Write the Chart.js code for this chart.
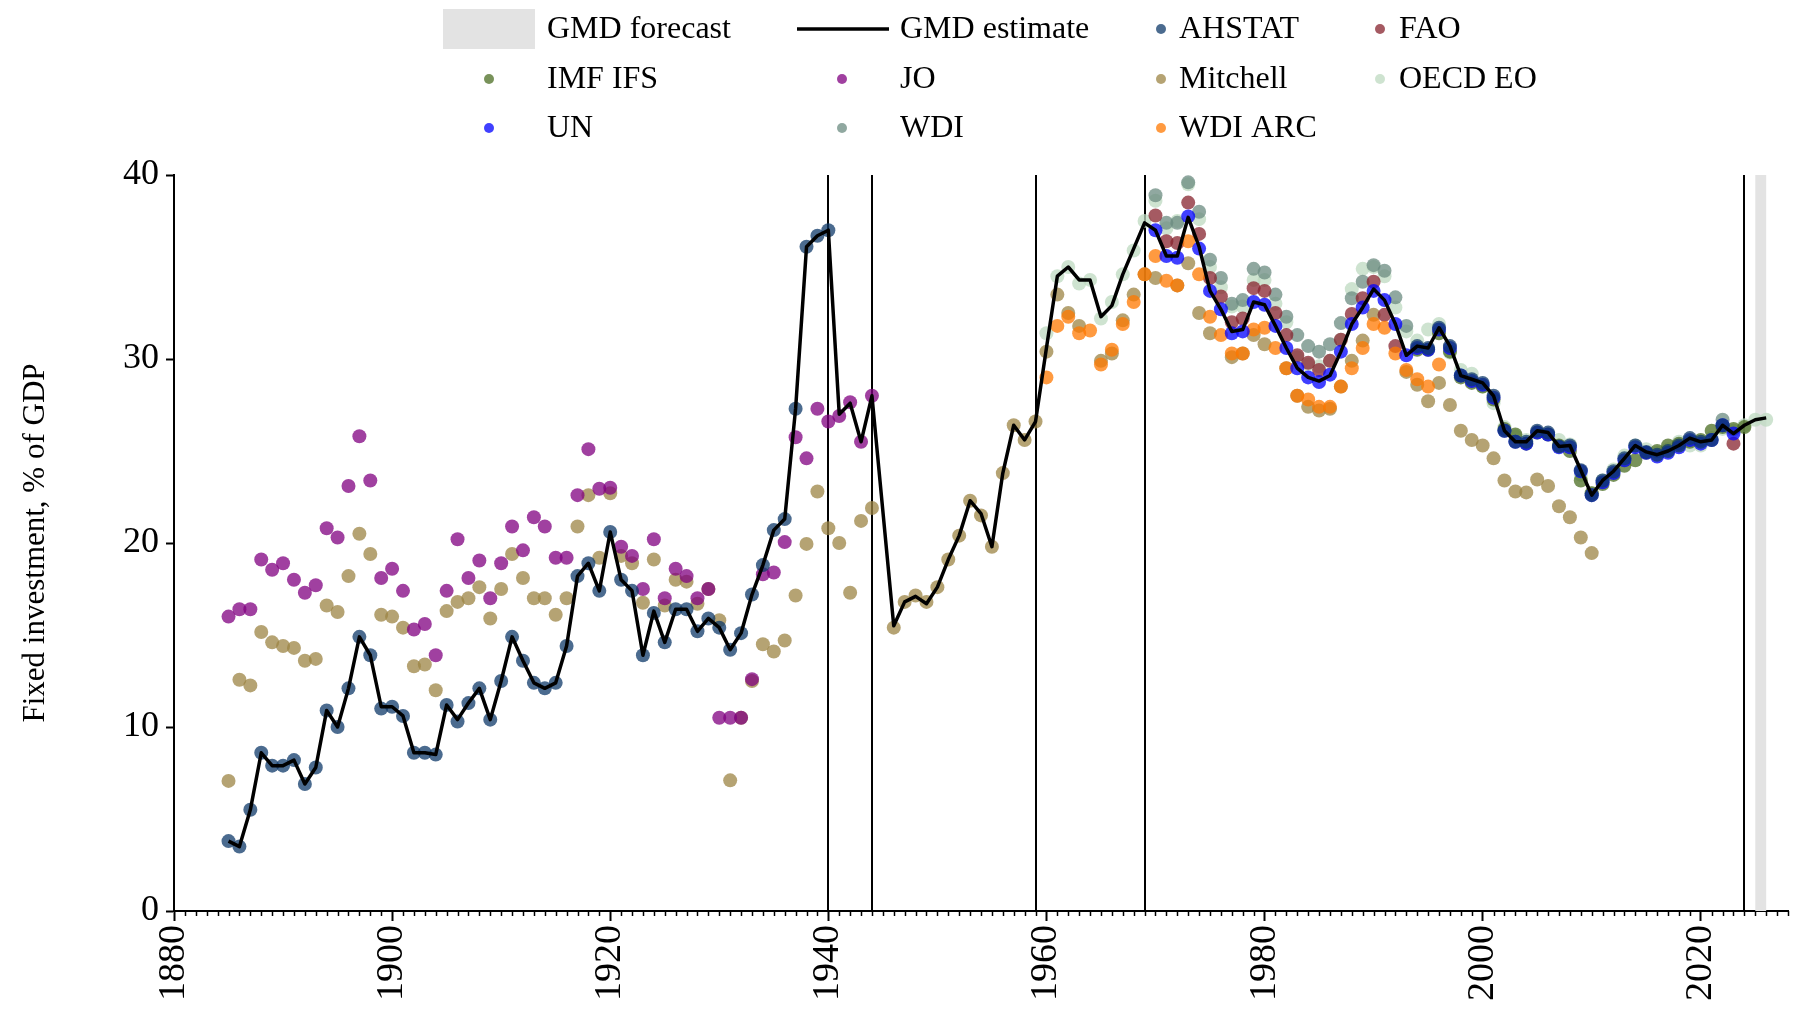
<!DOCTYPE html>
<html>
<head>
<meta charset="utf-8">
<title>Fixed investment, % of GDP</title>
<script src="https://cdn.jsdelivr.net/npm/chart.js@4.4.1/dist/chart.umd.min.js"></script>
<style>
  html, body { margin: 0; padding: 0; background: #fff; }
  canvas { display: block; }
</style>
</head>
<body>
<canvas id="chart" width="1795" height="1014"></canvas>
<script>
// Axis settings
const xMin = 1880, xMax = 2028;
const yMin = 0, yMax = 40;
const xTickStep = 20, yTickStep = 10;
const breakYears = [1940, 1944, 1959, 1969, 2024];
const forecastFrom = 2025, forecastTo = 2026;

const range = (a, b) => Array.from({ length: b - a + 1 }, (_, i) => a + i);

// GMD estimate (black line)
const gmdYears = [...range(1885, 1944), ...range(1946, 2026)];
const gmdValues = [
  3.8, 3.5, 5.5, 8.6, 7.9, 7.9, 8.2, 6.9, 7.8, 10.9,
  10.0, 12.1, 14.9, 13.9, 11.1, 11.1, 10.6, 8.6, 8.6, 8.5,
  11.2, 10.4, 11.3, 12.1, 10.4, 12.5, 14.9, 13.6, 12.4, 12.1,
  12.4, 14.4, 18.2, 18.9, 17.4, 20.6, 18.0, 17.4, 13.9, 16.3,
  14.6, 16.4, 16.4, 15.2, 15.9, 15.4, 14.2, 15.1, 17.2, 18.8,
  20.7, 21.3, 27.3, 36.1, 36.7, 37.0, 27.0, 27.6, 25.5, 28.0,
  15.5, 16.8, 17.1, 16.7, 17.6, 19.1, 20.4, 22.3, 21.6, 19.8,
  23.8, 26.4, 25.6, 26.6, 30.6, 34.5, 35.0, 34.3, 34.3, 32.3,
  32.9, 34.6, 36.0, 37.4, 37.0, 35.6, 35.6, 37.7, 36.1, 33.7,
  32.7, 31.5, 31.6, 33.1, 32.95, 31.8, 30.6, 29.5, 29.0, 28.8,
  29.1, 30.4, 31.9, 32.8, 33.8, 33.2, 31.9, 30.2, 30.7, 30.6,
  31.7, 30.7, 29.1, 28.9, 28.7, 28.0, 26.1, 25.5, 25.5, 26.1,
  26.0, 25.25, 25.3, 23.95, 22.6, 23.4, 23.9, 24.6, 25.3, 24.95,
  24.8, 25.0, 25.3, 25.7, 25.5, 25.6, 26.4, 25.95, 26.4, 26.7,
  26.8
];

// AHSTAT
const ahstatYears = [...range(1885, 1940), ...range(1994, 2022)];
const ahstatValues = [
  3.8, 3.5, 5.5, 8.6, 7.9, 7.9, 8.2, 6.9, 7.8, 10.9,
  10.0, 12.1, 14.9, 13.9, 11.0, 11.1, 10.6, 8.6, 8.6, 8.5,
  11.2, 10.3, 11.3, 12.1, 10.4, 12.5, 14.9, 13.6, 12.4, 12.1,
  12.4, 14.4, 18.2, 18.9, 17.4, 20.6, 18.0, 17.4, 13.9, 16.2,
  14.6, 16.4, 16.4, 15.2, 15.9, 15.4, 14.2, 15.1, 17.2, 18.8,
  20.7, 21.3, 27.3, 36.1, 36.7, 37.0,
  30.7, 30.6, 31.7, 30.7, 29.1, 28.9, 28.7, 28.0, 26.1, 25.5,
  25.5, 26.1, 26.0, 25.25, 25.3, 23.95, 22.6, 23.4, 23.9, 24.6,
  25.3, 24.95, 24.8, 25.0, 25.3, 25.7, 25.5, 25.6, 26.4
];

// FAO
const faoYears = [...range(1970, 1992), 2023];
const faoValues = [
  37.8, 36.4, 36.3, 38.5, 36.8, 34.4, 33.4, 32.0, 32.2, 33.85,
  33.7, 32.5, 31.3, 30.2, 29.8, 29.4, 29.9, 31.05, 32.45, 33.3,
  34.2, 32.4, 30.7, 25.4
];

// IMF IFS
const imfYears = range(1994, 2024);
const imfValues = [
  30.5, 30.5, 31.4, 30.4, 29.0, 28.7, 28.5, 27.8, 26.2, 25.9,
  25.4, 26.0, 25.9, 25.3, 25.0, 23.4, 22.7, 23.2, 23.7, 24.2,
  24.5, 24.9, 25.0, 25.3, 25.4, 25.5, 25.6, 26.1, 26.3, 26.2,
  26.3
];

// JO
const joYears = range(1885, 1944);
const joValues = [
  16.0, 16.4, 16.4, 19.1, 18.55, 18.9, 18.0, 17.3, 17.7, 20.8,
  20.3, 23.1, 25.8, 23.4, 18.1, 18.6, 17.4, 15.3, 15.6, 13.9,
  17.4, 20.2, 18.1, 19.05, 17.0, 18.9, 20.9, 19.6, 21.4, 20.9,
  19.2, 19.2, 22.6, 25.1, 22.95, 23.0, 19.8, 19.3, 17.5, 20.2,
  17.0, 18.6, 18.2, 17.0, 17.5, 10.5, 10.5, 10.5, 12.6, 18.3,
  18.4, 20.05, 25.75, 24.6, 27.3, 26.6, 26.9, 27.65, 25.5, 28.0
];

// Mitchell
const mitchellYears = [...range(1885, 1944), ...range(1946, 2010)];
const mitchellValues = [
  7.07, 12.57, 12.26, 15.16, 14.6, 14.4, 14.3, 13.6, 13.7, 16.6,
  16.25, 18.2, 20.5, 19.4, 16.1, 16.0, 15.4, 13.3, 13.4, 12.0,
  16.3, 16.8, 17.0, 17.6, 15.9, 17.5, 19.4, 18.1, 17.0, 17.0,
  16.1, 17.0, 20.9, 22.6, 19.2, 22.7, 19.3, 18.9, 16.75, 19.1,
  16.6, 18.0, 17.9, 16.7, 17.5, 15.8, 7.1, 10.5, 12.5, 14.5,
  14.1, 14.7, 17.15, 19.95, 22.8, 20.8, 20.0, 17.3, 21.2, 21.9,
  15.4, 16.8, 17.15, 16.8, 17.6, 19.1, 20.4, 22.3, 21.5, 19.8,
  23.8, 26.4, 25.6, 26.6, 30.4, 33.5, 32.5, 31.8, null, 29.9,
  30.3, 32.1, 33.5, 34.6, 34.4, null, 34.0, 35.2, 32.5, 31.4,
  null, 30.1, 30.3, 31.3, 30.8, null, 29.5, 28.0, 27.4, 27.2,
  27.3, 28.5, 29.9, 31.0, 32.4, null, null, 29.3, 28.6, 27.7,
  28.7, 27.5, 26.1, 25.6, 25.3, 24.6, 23.4, 22.8, 22.75, 23.45,
  23.1, 22.0, 21.4, 20.3, 19.45
];

// OECD EO
const oecdYears = range(1960, 2026);
const oecdValues = [
  31.4, 34.5, 35.0, 34.1, 34.3, 32.2, 33.1, 34.6, 35.9, 37.5,
  38.6, 37.1, 37.5, 39.5, 37.6, 35.0, 33.9, 32.85, 32.85, 34.3,
  34.3, 33.0, 32.0, 30.1, 29.7, 29.6, 29.9, 31.05, 33.8, 34.9,
  35.0, 34.5, 32.8, 31.5, 31.0, 31.6, 31.9, 30.35, 29.4, 29.2,
  28.5, 27.6, 26.3, 25.8, 25.6, 26.0, 25.9, 25.6, 25.35, 23.7,
  22.7, 23.4, 24.0, 24.75, 25.3, 25.1, 24.9, 25.1, 25.5, 25.3,
  25.3, 25.7, 26.2, 26.1, 26.4, 26.7, 26.7
];

// UN
const unYears = range(1970, 2023);
const unValues = [
  37.0, 35.6, 35.5, 37.75, 36.0, 33.7, 32.7, 31.4, 31.5, 33.1,
  32.95, 31.8, 30.6, 29.5, 29.0, 28.75, 29.15, 30.4, 31.9, 32.8,
  33.7, 33.2, 31.9, 30.2, 30.6, 30.5, 31.6, 30.6, 29.1, 28.8,
  28.6, 27.9, 26.1, 25.5, 25.4, 26.0, 25.9, 25.2, 25.2, 23.9,
  22.6, 23.3, 23.8, 24.5, 25.2, 24.9, 24.7, 24.9, 25.2, 25.6,
  25.4, 25.6, 26.4, 25.95
];

// WDI
const wdiYears = [...range(1970, 1993), 2022];
const wdiValues = [
  38.9, 37.4, 37.4, 39.6, 38.0, 35.4, 34.4, 33.0, 33.2, 34.9,
  34.7, 33.5, 32.3, 31.3, 30.7, 30.4, 30.8, 31.95, 33.3, 34.2,
  35.1, 34.8, 33.35, 31.8, 26.7
];

// WDI ARC
const wdiArcYears = range(1960, 1996);
const wdiArcValues = [
  29.0, 31.8, 32.3, 31.4, 31.55, 29.7, 30.5, 31.9, 33.1, 34.6,
  35.6, 34.25, 34.0, 36.4, 34.6, 32.3, 31.3, 30.3, 30.3, 31.6,
  31.7, 30.6, 29.5, 28.0, 27.8, 27.4, 27.4, 28.5, 29.5, 30.6,
  31.9, 31.7, 30.3, 29.4, 28.9, 28.5, 29.7
];

const toPoints = (years, values) =>
  years.map((x, i) => ({ x, y: values[i] })).filter((p) => p.y != null);

const FONT = '"Liberation Serif", "Times New Roman", serif';

// drawing order: first entry is drawn on top
const sources = [
  { label: "AHSTAT", color: "rgba(15,57,105,0.75)", years: ahstatYears, values: ahstatValues },
  { label: "UN", color: "rgba(0,0,255,0.75)", years: unYears, values: unValues },
  { label: "WDI ARC", color: "rgba(255,120,0,0.75)", years: wdiArcYears, values: wdiArcValues },
  { label: "FAO", color: "rgba(135,35,45,0.75)", years: faoYears, values: faoValues },
  { label: "JO", color: "rgba(128,0,128,0.75)", years: joYears, values: joValues },
  { label: "Mitchell", color: "rgba(156,132,68,0.75)", years: mitchellYears, values: mitchellValues },
  { label: "WDI", color: "rgba(107,139,128,0.75)", years: wdiYears, values: wdiValues },
  { label: "IMF IFS", color: "rgba(75,109,35,0.75)", years: imfYears, values: imfValues },
  { label: "OECD EO", color: "rgba(190,218,192,0.75)", years: oecdYears, values: oecdValues },
];
const colorOf = (name) => sources.find((s) => s.label === name).color;

const datasets = [
  {
    type: "line",
    label: "GMD estimate",
    data: toPoints(gmdYears, gmdValues),
    borderColor: "#000",
    borderWidth: 3.5,
    pointRadius: 0,
    tension: 0,
    borderJoinStyle: "round",
    order: 0,
  },
  ...sources.map((s, i) => ({
    type: "scatter",
    label: s.label,
    data: toPoints(s.years, s.values),
    backgroundColor: s.color,
    borderWidth: 0,
    pointRadius: 7,
    pointHoverRadius: 7,
    order: i + 1,
  })),
];

// forecast band + structural break lines under the dots
const backdrop = {
  id: "backdrop",
  beforeDatasetsDraw(chart) {
    const { ctx, chartArea, scales } = chart;
    const x = scales.x;
    ctx.save();
    ctx.fillStyle = "#e3e3e3";
    const x0 = x.getPixelForValue(forecastFrom), x1 = x.getPixelForValue(forecastTo);
    ctx.fillRect(x0, chartArea.top, x1 - x0, chartArea.bottom - chartArea.top);
    ctx.strokeStyle = "#000";
    ctx.lineWidth = 2;
    breakYears.forEach((yr) => {
      const px = Math.round(x.getPixelForValue(yr));
      ctx.beginPath();
      ctx.moveTo(px, chartArea.top);
      ctx.lineTo(px, chartArea.bottom);
      ctx.stroke();
    });
    ctx.restore();
  },
};

// yearly minor ticks on the x axis
const minorTicks = {
  id: "minorTicks",
  afterDraw(chart) {
    const { ctx, chartArea, scales } = chart;
    const x = scales.x;
    ctx.save();
    ctx.strokeStyle = "#000";
    ctx.lineWidth = 1.5;
    for (let yr = xMin; yr <= xMax; yr++) {
      if (yr % xTickStep === 0) continue;
      const px = Math.round(x.getPixelForValue(yr)) + 0.5;
      ctx.beginPath();
      ctx.moveTo(px, chartArea.bottom);
      ctx.lineTo(px, chartArea.bottom + 5);
      ctx.stroke();
    }
    ctx.restore();
  },
};

// legend laid out as in the original 4-column grid
const legendGrid = {
  id: "legendGrid",
  afterDraw(chart) {
    const ctx = chart.ctx;
    const rows = [29, 79, 128];
    const markX = [489, 842, 1161, 1380];
    const textX = [547, 900, 1179, 1399];
    ctx.save();
    ctx.font = "32px " + FONT;
    ctx.textBaseline = "middle";

    ctx.fillStyle = "#e3e3e3";
    ctx.fillRect(443, 9, 92, 40);
    ctx.strokeStyle = "#000";
    ctx.lineWidth = 3.5;
    ctx.beginPath();
    ctx.moveTo(797, rows[0]);
    ctx.lineTo(889, rows[0]);
    ctx.stroke();

    const items = [
      [0, 0, "GMD forecast", null],
      [0, 1, "GMD estimate", null],
      [0, 2, "AHSTAT", colorOf("AHSTAT")],
      [0, 3, "FAO", colorOf("FAO")],
      [1, 0, "IMF IFS", colorOf("IMF IFS")],
      [1, 1, "JO", colorOf("JO")],
      [1, 2, "Mitchell", colorOf("Mitchell")],
      [1, 3, "OECD EO", colorOf("OECD EO")],
      [2, 0, "UN", colorOf("UN")],
      [2, 1, "WDI", colorOf("WDI")],
      [2, 2, "WDI ARC", colorOf("WDI ARC")],
    ];
    items.forEach(([r, c, text, color]) => {
      if (color) {
        ctx.fillStyle = color;
        ctx.beginPath();
        ctx.arc(markX[c], rows[r], 5, 0, Math.PI * 2);
        ctx.fill();
      }
      ctx.fillStyle = "#000";
      ctx.fillText(text, textX[c], rows[r] + 1);
    });
    ctx.restore();
  },
};

new Chart(document.getElementById("chart"), {
  data: { datasets },
  options: {
    responsive: false,
    animation: false,
    devicePixelRatio: 1,
    layout: { padding: { top: 175, right: 0, bottom: 0, left: 0 } },
    plugins: { legend: { display: false }, tooltip: { enabled: false } },
    scales: {
      x: {
        type: "linear",
        min: xMin,
        max: xMax,
        border: { display: true, color: "#000", width: 2 },
        grid: { drawOnChartArea: false, drawTicks: true, tickLength: 10, tickWidth: 2, tickColor: "#000" },
        ticks: {
          stepSize: xTickStep,
          includeBounds: false,
          autoSkip: false,
          minRotation: 90,
          maxRotation: 90,
          padding: 4,
          color: "#000",
          font: { family: FONT, size: 38 },
          callback: (v) => String(v),
        },
        afterFit: (s) => {
          s.height = 103;
          s.paddingLeft = 0;
          s.paddingRight = 0;
        },
      },
      y: {
        type: "linear",
        min: yMin,
        max: yMax,
        border: { display: true, color: "#000", width: 2 },
        grid: { drawOnChartArea: false, drawTicks: true, tickLength: 8, tickWidth: 2, tickColor: "#000" },
        ticks: {
          stepSize: yTickStep,
          padding: 7,
          color: "#000",
          font: { family: FONT, size: 36 },
          callback: (v) => String(v),
        },
        title: {
          display: true,
          text: "Fixed investment, % of GDP",
          color: "#000",
          font: { family: FONT, size: 31 },
          padding: { top: 17, bottom: 0 },
        },
        afterFit: (s) => {
          s.width = 174;
        },
      },
    },
  },
  plugins: [backdrop, minorTicks, legendGrid],
});
</script>
</body>
</html>
